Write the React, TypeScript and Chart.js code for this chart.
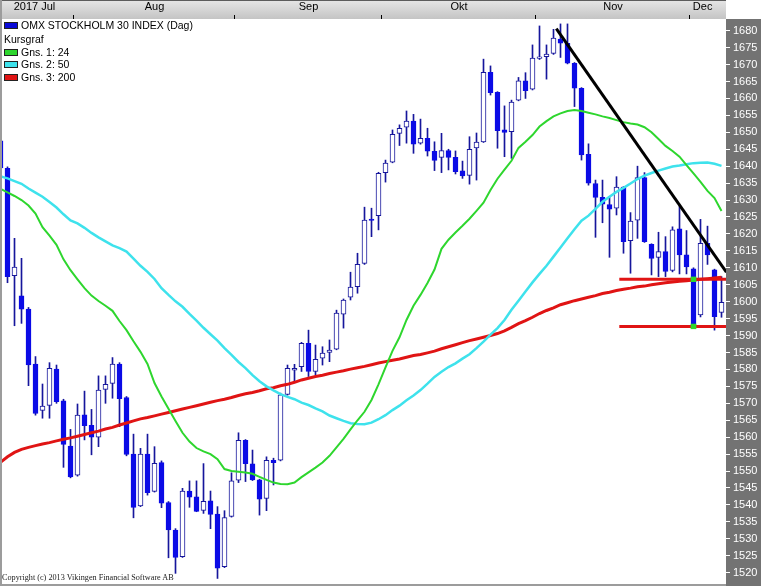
import React, { useEffect, useRef } from "react";
import { Chart, registerables } from "chart.js";

Chart.register(...registerables);

// ---- data (one entry per trading day, 2017-07-17 .. 2017-12-07) ----
const opens = [1647.5,1639.4,1607.7,1601.7,1597.8,1581.6,1567.9,1569.4,1580.1,1570.7,
1557.4,1548.8,1566.6,1563.5,1560.0,1574.1,1575.9,1581.6,1571.7,1555.0,
1539.7,1555.0,1544.0,1552.5,1540.7,1532.6,1524.7,1544.1,1542.4,1538.4,
1541.2,1537.3,1521.8,1536.6,1547.3,1559.1,1552.1,1547.4,1541.9,1553.2,
1553.2,1572.6,1579.8,1580.8,1587.7,1579.4,1583.3,1585.0,1586.0,1596.3,
1601.3,1604.4,1611.3,1624.4,1625.4,1638.1,1641.2,1649.7,1651.5,1653.3,
1646.8,1648.2,1644.4,1642.6,1644.6,1642.6,1638.6,1637.3,1645.4,1647.2,
1667.7,1661.8,1650.7,1650.2,1659.5,1665.2,1662.7,1671.8,1672.3,1673.3,
1677.5,1676.3,1670.4,1663.0,1643.5,1634.9,1630.8,1628.7,1627.6,1633.8,
1618.0,1624.1,1636.6,1616.9,1613.1,1614.8,1609.2,1621.5,1613.8,1609.7,
1596.1,1617.2,1609.4,1596.8];

const highs = [1652.0,1639.8,1618.7,1612.8,1598.3,1583.8,1575.7,1582.0,1581.3,1571.2,
1562.3,1569.8,1573.6,1568.2,1578.1,1578.1,1583.5,1582.0,1572.0,1560.9,
1556.7,1560.9,1557.2,1553.0,1541.0,1533.0,1544.9,1547.1,1547.1,1552.2,
1544.1,1539.5,1538.3,1549.5,1561.3,1559.3,1556.2,1547.6,1554.2,1553.8,
1573.0,1581.3,1581.5,1588.0,1591.6,1587.2,1586.7,1588.7,1597.5,1600.8,
1608.7,1614.3,1627.9,1627.6,1638.2,1641.8,1650.7,1652.2,1656.3,1655.3,
1653.9,1651.2,1647.2,1649.7,1645.0,1644.5,1641.5,1648.7,1649.8,1671.6,
1669.6,1662.0,1657.8,1659.5,1666.2,1667.6,1675.8,1681.4,1675.8,1680.4,
1682.0,1682.0,1670.6,1663.2,1646.6,1635.9,1635.9,1631.0,1636.9,1634.0,
1626.3,1640.0,1638.1,1617.1,1620.5,1619.2,1622.1,1628.2,1621.0,1610.0,
1624.3,1622.3,1609.6,1607.4];

const lows = [1629.5,1605.6,1592.9,1593.6,1575.2,1566.5,1565.6,1565.6,1570.0,1551.1,
1548.0,1548.5,1559.2,1554.8,1557.2,1570.0,1571.5,1563.1,1554.5,1536.2,
1539.5,1542.9,1543.8,1539.2,1524.4,1519.8,1524.5,1539.3,1538.0,1537.5,
1533.0,1518.3,1521.5,1536.4,1546.6,1546.9,1547.2,1537.0,1538.3,1545.9,
1553.0,1572.4,1576.4,1579.4,1577.9,1578.4,1581.3,1582.3,1585.8,1592.2,
1600.5,1602.5,1611.0,1619.2,1621.2,1635.3,1641.0,1646.1,1646.8,1643.8,
1646.5,1643.0,1638.7,1638.1,1638.9,1637.7,1636.4,1634.7,1635.9,1647.0,
1661.0,1645.3,1642.8,1642.3,1659.3,1660.0,1662.5,1671.5,1665.7,1673.0,
1672.1,1670.2,1657.6,1641.8,1634.4,1619.0,1623.3,1613.1,1625.6,1614.3,
1608.4,1618.7,1617.5,1607.9,1607.4,1607.4,1608.8,1608.2,1608.2,1592.3,
1595.5,1611.0,1591.6,1595.4];

const closes = [1639.5,1607.4,1610.2,1597.8,1581.3,1567.0,1569.2,1580.3,1570.5,1557.9,
1548.3,1566.5,1563.4,1560.0,1573.9,1575.6,1581.6,1571.4,1554.9,1539.3,
1555.0,1543.6,1552.3,1540.5,1532.6,1524.5,1544.1,1542.3,1538.1,1541.1,
1537.2,1521.3,1536.3,1547.1,1559.1,1552.2,1547.4,1541.7,1553.2,1552.5,
1572.5,1580.3,1580.3,1587.7,1579.4,1583.0,1584.8,1585.7,1596.6,1600.5,
1604.3,1611.0,1624.1,1624.0,1637.9,1640.9,1649.4,1651.2,1653.3,1646.5,
1648.2,1644.4,1641.7,1644.6,1642.6,1638.4,1637.1,1645.0,1647.1,1667.7,
1661.7,1650.5,1650.0,1658.9,1665.2,1662.3,1671.9,1672.3,1673.1,1677.8,
1676.3,1670.4,1663.0,1643.3,1635.0,1630.8,1628.8,1627.3,1633.8,1617.7,
1623.8,1636.6,1617.7,1612.8,1614.8,1608.9,1621.2,1613.8,1610.3,1592.6,
1617.2,1613.8,1595.6,1599.8];

const ma24 = [1633.3,1632.3,1631.2,1630.0,1628.4,1626.0,1622.0,1619.5,1616.8,1612.5,
1609.3,1606.6,1604.0,1601.8,1600.2,1598.8,1597.3,1594.3,1591.6,1588.3,
1585.2,1581.6,1576.0,1572.0,1568.4,1564.8,1561.3,1558.7,1556.8,1555.8,
1555.0,1553.5,1550.6,1550.0,1549.8,1549.6,1549.2,1548.3,1547.4,1546.6,
1546.2,1546.1,1546.6,1548.2,1549.6,1551.0,1552.5,1554.5,1557.0,1559.5,
1562.3,1565.0,1567.5,1571.0,1575.6,1580.6,1585.5,1589.5,1594.6,1598.8,
1602.0,1605.5,1609.5,1615.6,1618.3,1620.4,1622.4,1624.5,1626.8,1629.2,
1633.0,1636.3,1639.0,1641.6,1645.4,1647.2,1649.2,1651.7,1653.3,1654.7,
1655.6,1656.3,1656.6,1656.3,1655.8,1655.3,1654.7,1654.2,1653.6,1653.0,
1652.6,1652.3,1651.5,1650.0,1648.0,1646.0,1644.5,1642.8,1640.3,1637.9,
1635.4,1632.7,1630.6,1626.8];

const ma50 = [1637.0,1636.4,1635.6,1634.8,1633.4,1632.2,1631.0,1629.4,1627.8,1625.8,
1624.0,1623.1,1621.8,1620.3,1619.0,1617.8,1616.6,1615.8,1614.8,1612.7,
1610.6,1608.8,1606.7,1604.0,1602.0,1600.1,1598.5,1596.4,1594.4,1592.3,
1590.4,1588.5,1586.3,1584.3,1582.2,1580.4,1578.3,1576.5,1575.0,1573.8,
1572.7,1571.9,1571.2,1570.2,1569.5,1568.5,1567.6,1566.4,1565.6,1564.8,
1564.1,1563.9,1563.8,1564.3,1565.3,1566.5,1568.0,1569.3,1570.9,1572.3,
1573.9,1575.8,1577.8,1579.3,1580.7,1581.8,1583.2,1584.5,1586.3,1588.2,
1590.3,1592.2,1594.6,1597.6,1600.3,1603.0,1605.7,1608.2,1610.6,1613.3,
1616.0,1618.7,1621.4,1623.9,1625.4,1627.4,1629.5,1631.0,1632.4,1633.6,
1634.9,1636.2,1637.2,1638.0,1638.7,1639.3,1639.9,1640.2,1640.6,1640.9,
1641.0,1641.1,1640.7,1640.1];

const ma200 = [1552.6,1554.2,1555.5,1556.4,1557.0,1557.5,1558.0,1558.4,1558.9,1559.4,
1559.8,1560.3,1560.8,1561.3,1561.8,1562.4,1562.9,1563.6,1564.2,1564.8,
1565.4,1565.8,1566.3,1566.8,1567.3,1567.8,1568.3,1568.8,1569.3,1569.8,
1570.3,1570.8,1571.2,1571.7,1572.3,1572.8,1573.2,1573.7,1574.3,1574.6,
1575.2,1575.6,1576.2,1576.9,1577.4,1577.9,1578.3,1578.8,1579.2,1579.6,
1580.1,1580.5,1580.9,1581.4,1581.9,1582.3,1582.7,1583.1,1583.6,1584.1,
1584.4,1584.9,1585.4,1586.1,1586.7,1587.3,1587.9,1588.5,1589.0,1589.5,
1590.0,1590.6,1591.4,1592.4,1593.5,1594.4,1595.4,1596.5,1597.4,1598.2,
1599.1,1599.7,1600.3,1600.8,1601.3,1601.8,1602.4,1602.8,1603.3,1603.7,
1604.0,1604.4,1604.6,1605.0,1605.3,1605.6,1605.8,1606.0,1606.2,1606.4,
1606.6,1606.8,1607.0,1607.2];

// drawn trend line and support/resistance lines (day index, value)
const trendX = [79.4, 103.7];
const trendY = [1680.6, 1608.7];
const hLineX = [88.4, 103.7];
const resistanceY = 1606.6;
const supportY = 1592.7;
const markerDay = 99;
const markerRanges: [number, number][] = [[1605.9, 1607.3], [1592.0, 1593.4]];

// axis labels
const monthLabels = ["2017 Jul", "Aug", "Sep", "Okt", "Nov", "Dec"];
const monthLabelPos = [4.85, 22, 44, 65.5, 87.5, 100.3];
const monthStarts = [10.5, 33.5, 54.5, 76.5, 98.5];
const yTicks = [1520,1525,1530,1535,1540,1545,1550,1555,1560,1565,1570,1575,1580,1585,1590,1595,1600,
1605,1610,1615,1620,1625,1630,1635,1640,1645,1650,1655,1660,1665,1670,1675,1680];

const legendRows = [
  { label: "OMX STOCKHOLM 30 INDEX (Dag)", color: "#0a0ad8" },
  { label: "Kursgraf", color: "" },
  { label: "Gns. 1: 24", color: "#2ed62e" },
  { label: "Gns. 2: 50", color: "#3ee2ec" },
  { label: "Gns. 3: 200", color: "#e01414" },
];

const X_MIN = 0.2143;
const X_MAX = 103.6429;
const Y_MIN = 1516.66;
const Y_MAX = 1683.45;

const UP_FILL = "#ffffff";
const UP_BORDER = "#16169c";
const DOWN_FILL = "#0b0be6";
const WICK = "#16169c";

const framePlugin = {
  id: "frame",
  beforeDraw(chart: any) {
    const { ctx, chartArea: a, width, height } = chart;
    ctx.save();
    const g = ctx.createLinearGradient(0, 0, 0, a.top);
    g.addColorStop(0, "#e6e6e6");
    g.addColorStop(1, "#c4c4c4");
    ctx.fillStyle = g;
    ctx.fillRect(0, 0, a.right, a.top);
    ctx.fillStyle = "#5c5c5c";
    ctx.fillRect(0, 0, a.right, 1);
    ctx.fillStyle = "#737373";
    ctx.fillRect(a.right, a.top, width - a.right, height - a.top);
    ctx.fillStyle = "#9c9c9c";
    ctx.fillRect(0, 0, 2, height);
    ctx.fillRect(0, a.bottom, a.right, height - a.bottom);
    ctx.restore();
  },
};

const noPad = (s: any) => {
  s.paddingTop = 0;
  s.paddingBottom = 0;
  s.paddingLeft = 0;
  s.paddingRight = 0;
};

export default function App() {
  const ref = useRef<HTMLCanvasElement>(null);

  useEffect(() => {
    document.body.style.margin = "0";
    const days = closes.map((_, i) => i);
    const isUp = days.map((i) => closes[i] >= opens[i]);

    const bodies = days.map((i) => ({ x: i, y: [opens[i], closes[i]] }));
    const wicks = days.map((i) => ({ x: i, y: [lows[i], highs[i]] }));

    Chart.defaults.font.family = '"Liberation Sans", Arial, sans-serif';

    const chart = new Chart(ref.current as HTMLCanvasElement, {
      type: "bar",
      data: {
        datasets: [
          {
            type: "line",
            data: trendX.map((x, i) => ({ x, y: trendY[i] })),
            borderColor: "#000000",
            borderWidth: 3,
            pointRadius: 0,
          } as any,
          {
            type: "bar",
            data: markerRanges.map((r) => ({ x: markerDay, y: r })),
            backgroundColor: "#2ed62e",
            barThickness: 5,
            grouped: false,
          } as any,
          {
            type: "line",
            data: hLineX.map((x) => ({ x, y: resistanceY })),
            borderColor: "#e01414",
            borderWidth: 3,
            pointRadius: 0,
          } as any,
          {
            type: "line",
            data: hLineX.map((x) => ({ x, y: supportY })),
            borderColor: "#e01414",
            borderWidth: 3,
            pointRadius: 0,
          } as any,
          {
            type: "line",
            data: days.map((i) => ({ x: i, y: ma24[i] })),
            borderColor: "#2ed62e",
            borderWidth: 2,
            pointRadius: 0,
          } as any,
          {
            type: "line",
            data: days.map((i) => ({ x: i, y: ma50[i] })),
            borderColor: "#3ee2ec",
            borderWidth: 2.5,
            pointRadius: 0,
          } as any,
          {
            type: "line",
            data: days.map((i) => ({ x: i, y: ma200[i] })),
            borderColor: "#e01414",
            borderWidth: 3,
            pointRadius: 0,
          } as any,
          {
            type: "bar",
            data: bodies,
            backgroundColor: isUp.map((u) => (u ? UP_FILL : DOWN_FILL)),
            borderColor: isUp.map((u) => (u ? UP_BORDER : DOWN_FILL)),
            borderWidth: 1,
            borderSkipped: false,
            barThickness: 5,
            grouped: false,
          } as any,
          {
            type: "bar",
            data: wicks,
            backgroundColor: WICK,
            borderWidth: 0,
            barThickness: 1,
            grouped: false,
          } as any,
        ],
      },
      options: {
        responsive: false,
        animation: false,
        devicePixelRatio: 1,
        events: [],
        layout: { padding: { left: 2, right: 0, top: 0, bottom: 2 } },
        plugins: { legend: { display: false }, tooltip: { enabled: false } },
        scales: {
          x: {
            type: "linear",
            position: "top",
            min: X_MIN,
            max: X_MAX,
            offset: false,
            weight: 0,
            afterBuildTicks: (s: any) => {
              s.ticks = monthStarts.map((v) => ({ value: v }));
            },
            afterFit: (s: any) => {
              s.height = 5;
              noPad(s);
            },
            ticks: { display: false },
            grid: {
              offset: false,
              drawOnChartArea: false,
              drawTicks: true,
              tickLength: 4,
              color: "#000000",
              tickColor: "#000000",
            },
            border: { display: false },
          },
          xl: {
            type: "linear",
            position: "top",
            min: X_MIN,
            max: X_MAX,
            offset: false,
            weight: 1,
            afterBuildTicks: (s: any) => {
              s.ticks = monthLabelPos.map((v) => ({ value: v }));
            },
            afterFit: (s: any) => {
              s.height = 14;
              noPad(s);
            },
            ticks: {
              autoSkip: false,
              maxRotation: 0,
              minRotation: 0,
              padding: 0,
              color: "#000000",
              font: { size: 11 },
              callback: (_v: any, i: number) => monthLabels[i],
            },
            grid: { display: false, drawTicks: false, offset: false },
            border: { display: false },
          },
          y: {
            type: "linear",
            position: "right",
            min: Y_MIN,
            max: Y_MAX,
            afterBuildTicks: (s: any) => {
              s.ticks = yTicks.map((v) => ({ value: v }));
            },
            afterFit: (s: any) => {
              s.width = 35;
              noPad(s);
            },
            ticks: {
              autoSkip: false,
              color: "#ffffff",
              padding: 3,
              font: { size: 11 },
              callback: (v: any) => String(v),
            },
            grid: {
              drawOnChartArea: false,
              drawTicks: true,
              tickLength: 4,
              tickColor: "#ffffff",
              color: "#ffffff",
            },
            border: { display: false },
          },
        },
      } as any,
      plugins: [framePlugin],
    });
    return () => chart.destroy();
  }, []);

  const legendTops = [18.5, 32.5, 45.5, 58, 70.5];

  return (
    <div style={{ position: "relative", width: 761, height: 586, overflow: "hidden", background: "#ffffff" }}>
      <style>{"body{margin:0}"}</style>
      <canvas ref={ref} width={761} height={586} style={{ display: "block", width: 761, height: 586 }} />
      {legendRows.map((r, i) => (
        <div
          key={i}
          style={{
            position: "absolute",
            left: 4,
            top: legendTops[i],
            height: 13,
            lineHeight: "13px",
            fontFamily: '"Liberation Sans", Arial, sans-serif',
            fontSize: "10.5px",
            color: "#000",
            whiteSpace: "nowrap",
            display: "flex",
            alignItems: "center",
          }}
        >
          {r.color ? (
            <span
              style={{
                display: "inline-block",
                width: 12,
                height: 5,
                background: r.color,
                border: "1px solid #222",
                marginRight: 3,
              }}
            />
          ) : null}
          <span>{r.label}</span>
        </div>
      ))}
      <div
        style={{
          position: "absolute",
          left: 2,
          top: 573,
          fontFamily: '"Liberation Serif", "Times New Roman", serif',
          fontSize: "8.2px",
          lineHeight: "10px",
          color: "#222",
          whiteSpace: "nowrap",
        }}
      >
        Copyright (c) 2013 Vikingen Financial Software AB
      </div>
    </div>
  );
}
